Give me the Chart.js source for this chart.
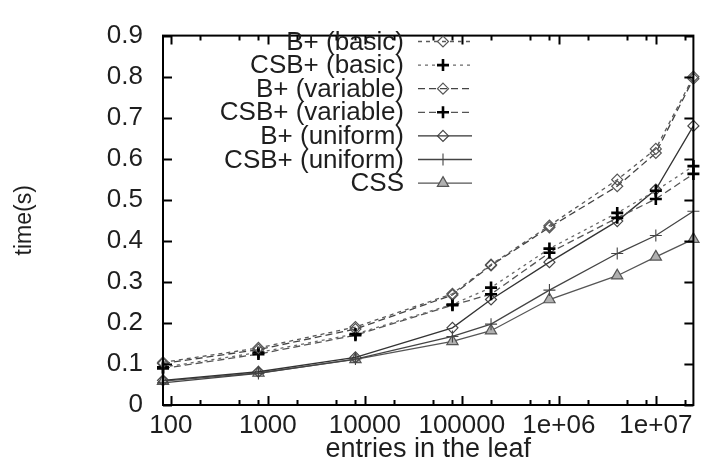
<!DOCTYPE html>
<html><head><meta charset="utf-8">
<script src="https://cdn.jsdelivr.net/npm/chart.js@4/dist/chart.umd.min.js"></script>
<style>html,body{margin:0;padding:0;background:#fff}#wrap{width:702px;height:463px}</style>
</head><body><div id="wrap"><canvas id="c" width="702" height="463"></canvas></div>
<script>
// ---- data ----
const entries = [83, 800, 8000, 80000, 200000, 800000, 4000000, 10000000, 24400000];
const bplusBasic    = [0.104, 0.139, 0.190, 0.271, 0.342, 0.437, 0.549, 0.624, 0.800];
const csbBasic      = [0.092, 0.128, 0.173, 0.245, 0.286, 0.381, 0.468, 0.522, 0.582];
const bplusVariable = [0.101, 0.135, 0.185, 0.268, 0.340, 0.433, 0.533, 0.614, 0.795];
const csbVariable   = [0.089, 0.124, 0.170, 0.243, 0.270, 0.371, 0.456, 0.502, 0.563];
const bplusUniform  = [0.060, 0.081, 0.116, 0.188, 0.257, 0.348, 0.448, 0.525, 0.680];
const csbUniform    = [0.054, 0.077, 0.112, 0.167, 0.197, 0.280, 0.369, 0.413, 0.472];
const cssTimes      = [0.058, 0.078, 0.111, 0.155, 0.181, 0.257, 0.315, 0.361, 0.404];
const seriesLabels = ['B+ (basic)', 'CSB+ (basic)', 'B+ (variable)', 'CSB+ (variable)', 'B+ (uniform)', 'CSB+ (uniform)', 'CSS'];
const xMajorTicks = [100, 1000, 10000, 100000, 1000000, 10000000];
const xMajorLabels = ['100', '1000', '10000', '100000', '1e+06', '1e+07'];
const xMinorMantissas = [2, 5, 8];
const yTicks = [0, 0.1, 0.2, 0.3, 0.4, 0.5, 0.6, 0.7, 0.8, 0.9];
const xTitle = 'entries in the leaf';
const yTitle = 'time(s)';

const FONT = '"Liberation Sans", Arial, Helvetica, sans-serif';
const TXT = '#1e1e1e';

function pts(vals) { return vals.map((v, i) => ({x: entries[i], y: v})); }

const styles = [
  {color:'#5a5a5a', dash:[4,4], ps:'rectRot', r:5.5, pb:'#555', pf:'rgba(0,0,0,0)', pw:1.2},
  {color:'#6a6a6a', dash:[3,4], ps:'cross', r:6, pb:'#000', pf:'rgba(0,0,0,0)', pw:2.6},
  {color:'#444', dash:[7,4], ps:'rectRot', r:5.5, pb:'#555', pf:'rgba(0,0,0,0)', pw:1.2},
  {color:'#555', dash:[7,4], ps:'cross', r:6, pb:'#000', pf:'rgba(0,0,0,0)', pw:2.6},
  {color:'#333', dash:[], ps:'rectRot', r:5.5, pb:'#444', pf:'rgba(0,0,0,0)', pw:1.2},
  {color:'#444', dash:[], ps:'cross', r:6, pb:'#444', pf:'rgba(0,0,0,0)', pw:1.1},
  {color:'#555', dash:[], ps:'triangle', r:6.5, pb:'#555', pf:'#b0b0b0', pw:1.2}
];
const seriesValues = [bplusBasic, csbBasic, bplusVariable, csbVariable, bplusUniform, csbUniform, cssTimes];

const datasets = seriesValues.map((vals, i) => ({
  label: seriesLabels[i],
  data: pts(vals),
  borderColor: styles[i].color,
  borderDash: styles[i].dash,
  borderWidth: 1.3,
  pointStyle: styles[i].ps,
  pointRadius: styles[i].r,
  pointBorderColor: styles[i].pb,
  pointBackgroundColor: styles[i].pf,
  pointBorderWidth: styles[i].pw,
  tension: 0,
  fill: false,
  clip: false
}));

function allXTicks(min, max) {
  const out = [];
  for (const m of xMajorTicks) {
    out.push({value: m, major: true});
    for (const k of xMinorMantissas) out.push({value: m * k, major: false});
  }
  out.push({value: 1e7 * 2, major: false});
  return out.filter(t => t.value >= min && t.value <= max).sort((a, b) => a.value - b.value);
}

function drawMarker(ctx, style, x, y, r, fill, stroke, lw) {
  ctx.save();
  ctx.setLineDash([]);
  ctx.lineWidth = lw; ctx.strokeStyle = stroke; ctx.fillStyle = fill;
  ctx.beginPath();
  if (style === 'rectRot') {
    ctx.moveTo(x, y - r); ctx.lineTo(x + r, y); ctx.lineTo(x, y + r); ctx.lineTo(x - r, y); ctx.closePath();
    ctx.fill(); ctx.stroke();
  } else if (style === 'cross') {
    ctx.moveTo(x - r, y); ctx.lineTo(x + r, y); ctx.moveTo(x, y - r); ctx.lineTo(x, y + r);
    ctx.stroke();
  } else if (style === 'triangle') {
    const a = 2 * Math.PI / 3;
    ctx.moveTo(x, y - r);
    ctx.lineTo(x + Math.sin(a) * r, y - Math.cos(a) * r);
    ctx.lineTo(x + Math.sin(2 * a) * r, y - Math.cos(2 * a) * r);
    ctx.closePath(); ctx.fill(); ctx.stroke();
  }
  ctx.restore();
}

const framePlugin = {
  id: 'frame',
  afterDraw(chart) {
    const {ctx, chartArea: a, scales: {x, y}} = chart;
    ctx.save();
    ctx.strokeStyle = '#000'; ctx.lineWidth = 2; ctx.setLineDash([]);
    ctx.strokeRect(a.left, a.top, a.right - a.left, a.bottom - a.top);
    ctx.beginPath();
    for (const t of x.ticks) {
      const px = Math.round(x.getPixelForValue(t.value)) + 0.5;
      const len = t.major ? 9 : 5;
      ctx.moveTo(px, a.bottom); ctx.lineTo(px, a.bottom - len);
      ctx.moveTo(px, a.top); ctx.lineTo(px, a.top + len);
    }
    for (const t of y.ticks) {
      const py = Math.round(y.getPixelForValue(t.value)) + 0.5;
      ctx.moveTo(a.left, py); ctx.lineTo(a.left + 9, py);
      ctx.moveTo(a.right, py); ctx.lineTo(a.right - 9, py);
    }
    ctx.stroke();
    // legend (right-aligned labels, sample line on the right)
    ctx.font = '26px ' + FONT;
    ctx.fillStyle = TXT; ctx.textAlign = 'right'; ctx.textBaseline = 'middle';
    chart.data.datasets.forEach((ds, i) => {
      const ly = 41.5 + i * 23.6;
      ctx.fillText(ds.label, 404, ly + 1);
      ctx.save();
      ctx.strokeStyle = ds.borderColor; ctx.lineWidth = ds.borderWidth;
      ctx.setLineDash(ds.borderDash);
      ctx.beginPath(); ctx.moveTo(418, ly); ctx.lineTo(472, ly); ctx.stroke();
      ctx.restore();
      drawMarker(ctx, ds.pointStyle, 443, ly, ds.pointRadius, ds.pointBackgroundColor, ds.pointBorderColor, ds.pointBorderWidth);
    });
    ctx.restore();
  }
};

new Chart(document.getElementById('c'), {
  type: 'line',
  data: {datasets},
  options: {
    responsive: false,
    animation: false,
    devicePixelRatio: 1,
    layout: {padding: {top: 17, right: 3, left: 0, bottom: 0}},
    plugins: {legend: {display: false}, tooltip: {enabled: false}},
    scales: {
      x: {
        type: 'logarithmic',
        min: 83, max: 24400000,
        grid: {display: false, drawTicks: false},
        border: {display: false},
        afterBuildTicks: (s) => { s.ticks = allXTicks(s.min, s.max); },
        afterFit: (s) => { s.height = 58; },
        ticks: {
          autoSkip: false, maxRotation: 0, minRotation: 0, padding: 5,
          color: TXT, font: {family: FONT, size: 26},
          callback: (v) => { const i = xMajorTicks.indexOf(v); return i >= 0 ? xMajorLabels[i] : ''; }
        },
        title: {display: true, text: xTitle, color: TXT, font: {family: FONT, size: 27, lineHeight: 1}, padding: {top: 0, bottom: 0}}
      },
      y: {
        type: 'linear',
        min: 0, max: 0.9,
        grid: {display: false, drawTicks: false},
        border: {display: false},
        afterBuildTicks: (s) => { s.ticks = yTicks.map(v => ({value: v})); },
        afterFit: (s) => { s.width = 163; },
        ticks: {
          padding: 20, color: TXT, font: {family: FONT, size: 26},
          callback: (v) => v === 0 ? '0' : Number(v).toFixed(1)
        },
        title: {display: true, text: yTitle, color: TXT, font: {family: FONT, size: 23, lineHeight: 1}, padding: {top: 13, bottom: 0}}
      }
    }
  },
  plugins: [framePlugin]
});
</script></body></html>
